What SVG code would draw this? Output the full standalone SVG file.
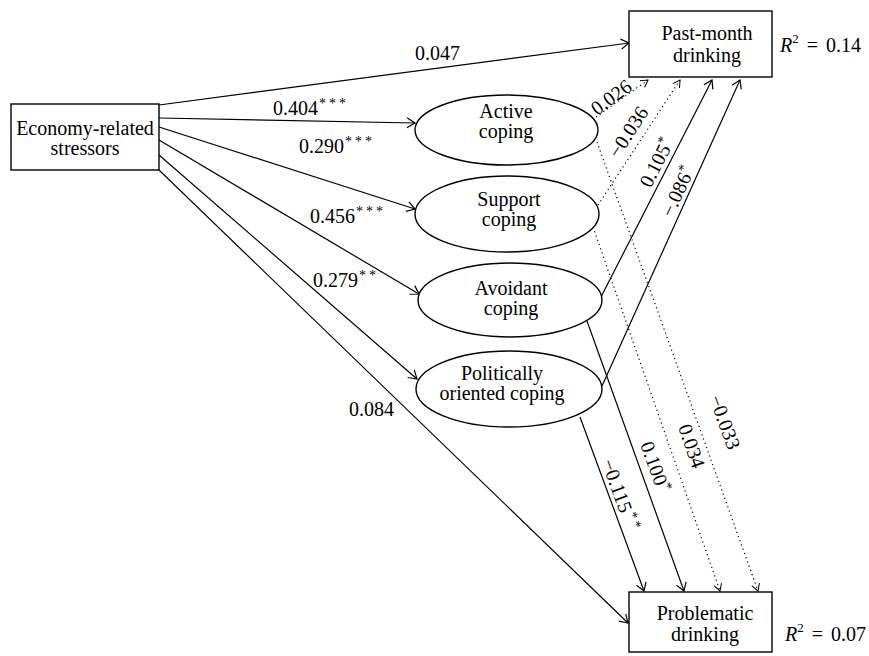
<svg xmlns="http://www.w3.org/2000/svg" width="869" height="656" viewBox="0 0 869 656" font-family="'Liberation Serif', 'Times New Roman', 'DejaVu Serif', serif">
<style>
text{font-family:'Liberation Serif','Times New Roman','DejaVu Serif',serif;font-size:20px;fill:#000}
.c{text-anchor:middle}
.ln{stroke:#000;stroke-width:1.2;fill:none}
.sol{marker-end:url(#ah)}
.dot{stroke-dasharray:1.2 3.3;marker-end:url(#ahd)}
.nd{fill:#fff;stroke:#000;stroke-width:1.4}
.sup{font-size:14px;letter-spacing:3px}
</style>
<defs>
<marker id="ah" markerWidth="12" markerHeight="12" refX="10" refY="6" orient="auto" markerUnits="userSpaceOnUse">
<path d="M2,1 L10,6 L2,11" fill="none" stroke="#000" stroke-width="1.2"/>
</marker>
<marker id="ahd" markerWidth="12" markerHeight="12" refX="10" refY="6" orient="auto" markerUnits="userSpaceOnUse">
<path d="M3,2 L10,6 L3,10" fill="none" stroke="#000" stroke-width="1"/>
</marker>
</defs>
<rect width="869" height="656" fill="#fff"/>
<g id="connectors">
<line class="ln sol" x1="159" y1="105" x2="629" y2="43"/>
<line class="ln sol" x1="159" y1="118" x2="415" y2="123"/>
<line class="ln sol" x1="159" y1="127" x2="415" y2="209"/>
<line class="ln sol" x1="159" y1="140" x2="419" y2="294"/>
<line class="ln sol" x1="159" y1="155" x2="417" y2="379"/>
<line class="ln sol" x1="159" y1="170" x2="628" y2="623"/>
<line class="ln dot" x1="596" y1="117" x2="648" y2="80"/>
<line class="ln dot" x1="598" y1="205" x2="680" y2="80"/>
<line class="ln sol" x1="601" y1="297" x2="712" y2="80"/>
<line class="ln sol" x1="602" y1="386" x2="740" y2="80"/>
<line class="ln dot" x1="597" y1="142" x2="758" y2="591"/>
<line class="ln dot" x1="593" y1="227" x2="720" y2="591"/>
<line class="ln sol" x1="587" y1="321" x2="684" y2="591"/>
<line class="ln sol" x1="580" y1="417" x2="644" y2="591"/>
<text x="415" y="60">0.047</text>
<text x="273" y="115">0.404<tspan class="sup" dy="-7" dx="1">***</tspan></text>
<text x="299" y="153">0.290<tspan class="sup" dy="-7" dx="1">***</tspan></text>
<text x="310" y="223">0.456<tspan class="sup" dy="-7" dx="1">***</tspan></text>
<text x="313" y="287">0.279<tspan class="sup" dy="-7" dx="1">**</tspan></text>
<text x="349" y="416">0.084</text>
<text class="c" transform="translate(611,97) rotate(-36)" y="7">0.026</text>
<text class="c" transform="translate(628,132) rotate(-57)" y="7">−0.036</text>
<text class="c" transform="translate(657,161) rotate(-63)" y="7">0.105<tspan class="sup" dy="-7">*</tspan></text>
<text class="c" transform="translate(678,190) rotate(-65)" y="7">−.086<tspan class="sup" dy="-7">*</tspan></text>
<text class="c" transform="translate(725,422) rotate(70)" y="7">−0.033</text>
<text class="c" transform="translate(692,446) rotate(71)" y="7">0.034</text>
<text class="c" transform="translate(656,468) rotate(70)" y="7">0.100<tspan class="sup" dy="-7">*</tspan></text>
<text class="c" transform="translate(621,496) rotate(70)" y="7">−0.115<tspan class="sup" dy="-7" dx="2">**</tspan></text>
</g>
<g id="economy">
<rect class="nd" x="11" y="104" width="148" height="66"/>
<text class="c" x="85" y="135">Economy-related</text>
<text class="c" x="85" y="155">stressors</text>
</g>
<g id="active">
<ellipse class="nd" cx="506.5" cy="130" rx="91.5" ry="35"/>
<text class="c" x="506" y="118">Active</text>
<text class="c" x="506" y="138">coping</text>
</g>
<g id="support">
<ellipse class="nd" cx="507" cy="214" rx="92" ry="38"/>
<text class="c" x="509" y="206">Support</text>
<text class="c" x="509" y="226">coping</text>
</g>
<g id="avoidant">
<ellipse class="nd" cx="510" cy="300" rx="92" ry="37"/>
<text class="c" x="511" y="295">Avoidant</text>
<text class="c" x="511" y="315">coping</text>
</g>
<g id="political">
<ellipse class="nd" cx="509" cy="389" rx="93" ry="38"/>
<text class="c" x="502" y="380">Politically</text>
<text class="c" x="502" y="400">oriented coping</text>
</g>
<g id="pastmonth">
<rect class="nd" x="629" y="11" width="143" height="66"/>
<text class="c" x="707" y="40">Past-month</text>
<text class="c" x="707" y="62">drinking</text>
<text x="780" y="52"><tspan font-style="italic">R</tspan><tspan font-size="13" dy="-9">2</tspan><tspan dy="9" dx="8">=</tspan><tspan dx="8">0.14</tspan></text>
</g>
<g id="problematic">
<rect class="nd" x="629" y="592" width="143" height="60"/>
<text class="c" x="705" y="620">Problematic</text>
<text class="c" x="705" y="641">drinking</text>
<text x="785" y="641"><tspan font-style="italic">R</tspan><tspan font-size="13" dy="-9">2</tspan><tspan dy="9" dx="8">=</tspan><tspan dx="8">0.07</tspan></text>
</g>
</svg>
